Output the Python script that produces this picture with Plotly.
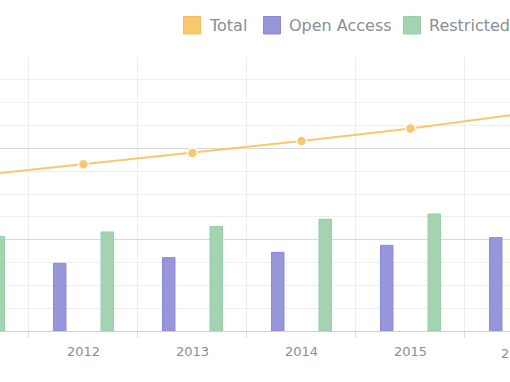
import plotly.graph_objects as go

years = ["2011", "2012", "2013", "2014", "2015", "2016"]
open_access = [667, 741, 803, 861, 938, 1022]
restricted = [1033, 1084, 1146, 1223, 1281, 1353]
total = [1700, 1825, 1949, 2080, 2217, 2375]

C_TOTAL = "#F8C86A"
C_OPEN = "#9896DB"
C_OPEN_LINE = "#8A88DD"
C_REST = "#A3D3B0"
C_REST_LINE = "#97CFA6"
TXT = "#8A8E96"
FONT = "DejaVu Sans"

x_range = [0.234, 4.913]

fig = go.Figure()
fig.add_trace(go.Bar(x=years, y=open_access, name="Open Access",
                     marker=dict(color=C_OPEN, line=dict(color=C_OPEN_LINE, width=1)),
                     showlegend=False))
fig.add_trace(go.Bar(x=years, y=restricted, name="Restricted",
                     marker=dict(color=C_REST, line=dict(color=C_REST_LINE, width=1)),
                     showlegend=False))
fig.add_trace(go.Scatter(x=years, y=total, name="Total", mode="lines+markers",
                         line=dict(color=C_TOTAL, width=2),
                         marker=dict(size=10, color=C_TOTAL, line=dict(color="white", width=1.5)),
                         showlegend=False))

# manual legend (square swatches)
legend_items = [("Total", C_TOTAL, "#F3BF5C", 183.5, 206.5),
                ("Open Access", C_OPEN, C_OPEN_LINE, 263.5, 286.5),
                ("Restricted", C_REST, C_REST_LINE, 403.5, 426.5)]
W, H = 510, 382
top, bottom = 57, 331
ph = bottom - top

def py(p):
    return (bottom - p) / ph

shapes = []
annotations = []
for name, col, lcol, sx, tx in legend_items:
    shapes.append(dict(type="rect", xref="paper", yref="paper",
                       x0=sx / W, x1=(sx + 17) / W, y0=py(34), y1=py(16.5),
                       fillcolor=col, line=dict(color=lcol, width=1)))
    annotations.append(dict(text=name, xref="paper", yref="paper",
                            x=tx / W, y=py(25.5), xanchor="left", yanchor="middle",
                            showarrow=False, font=dict(family=FONT, size=16, color=TXT)))

# partially visible tick label at right edge
idx = years.index("2016")
annotations.append(dict(text="2016", xref="paper", yref="paper",
                        x=(idx - x_range[0]) / (x_range[1] - x_range[0]), y=0,
                        yanchor="top", xanchor="center", yshift=-13, xshift=-2,
                        showarrow=False,
                        font=dict(family=FONT, size=13, color=TXT)))

fig.update_layout(
    width=W, height=H,
    margin=dict(l=0, r=0, t=top, b=H - bottom, pad=0),
    plot_bgcolor="white", paper_bgcolor="white",
    barmode="group", bargap=0.128, bargroupgap=0.737,
    shapes=shapes, annotations=annotations,
    font=dict(family=FONT, color=TXT),
    xaxis=dict(type="category", range=x_range, tickson="boundaries",
               ticks="outside", ticklen=6, tickcolor="#DCDCDC",
               ticklabelstandoff=8,
               showgrid=True, gridcolor="#EDEDED", gridwidth=1,
               showline=True, linecolor="#D0D0D0", linewidth=1,
               tickfont=dict(family=FONT, size=13, color=TXT)),
    yaxis=dict(range=[0, 3000], dtick=1000, showticklabels=False,
               showgrid=True, gridcolor="#D9D9D9", gridwidth=1, zeroline=False,
               minor=dict(dtick=250, showgrid=True, gridcolor="#EEEEEE", gridwidth=1)),
)

fig.write_html("out.html", config={"displayModeBar": False},
               post_script="document.body.style.margin='0';document.body.style.overflow='hidden';")
